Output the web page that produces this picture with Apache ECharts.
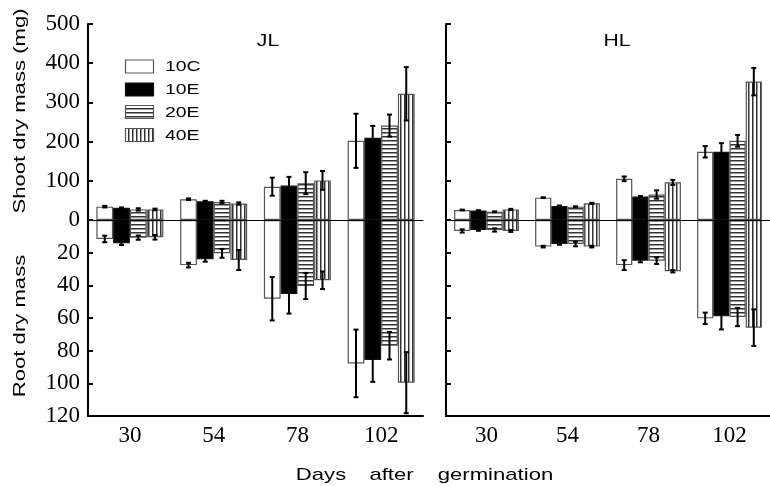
<!DOCTYPE html>
<html><head><meta charset="utf-8">
<script src="https://cdn.jsdelivr.net/npm/echarts@6/dist/echarts.min.js"></script>
<style>html,body{margin:0;padding:0;background:#fff}#c{width:770px;height:486px}</style>
</head><body><div id="c"></div>
<script>
// ---------- data ----------
const days = ['30', '54', '78', '102'];
const treatments = ['10C', '10E', '20E', '40E'];
const panels = ['JL', 'HL'];
const shootMax = 500, shootStep = 100;
const rootMax = 120, rootStep = 20;

// JL shoot dry mass (mg), mean and error, per treatment across days
const jlShoot10C = [34, 53, 85, 202];
const jlShoot10E = [31, 48, 88, 210];
const jlShoot20E = [27, 46, 94, 241];
const jlShoot40E = [27, 42, 101, 322];
const jlShootErr10C = [2, 2, 23, 69];
const jlShootErr10E = [1, 1, 22, 30];
const jlShootErr20E = [3, 3, 28, 28];
const jlShootErr40E = [2, 3, 24, 68];
// JL root dry mass
const jlRoot10C = [11.6, 27.6, 48.2, 87.8];
const jlRoot10E = [14.3, 24.1, 45.3, 85.7];
const jlRoot20E = [10.8, 20.4, 40.4, 77];
const jlRoot40E = [10.6, 24.5, 36.9, 99.6];
const jlRootErr10C = [2, 1.4, 13.3, 20.7];
const jlRootErr10E = [1, 1.4, 12, 13.4];
const jlRootErr20E = [1.3, 2.7, 8, 8.4];
const jlRootErr40E = [1.4, 6.1, 5.4, 18.7];
// HL shoot dry mass
const hlShoot10C = [25.5, 57, 105, 174];
const hlShoot10E = [24, 36, 60, 174];
const hlShoot20E = [21, 34, 65, 202];
const hlShoot40E = [27, 42.5, 96, 353];
const hlShootErr10C = [1, 1, 6, 14.5];
const hlShootErr10E = [1, 1, 1, 22];
const hlShootErr20E = [1, 1, 10.6, 15];
const hlShootErr40E = [1.5, 1.5, 6.4, 35];
// HL root dry mass
const hlRoot10C = [6.7, 16.3, 27.6, 60.2];
const hlRoot10E = [6.1, 14.7, 24.9, 59];
const hlRoot20E = [6.1, 14.7, 24.9, 59.4];
const hlRoot40E = [6.7, 16.3, 31.4, 65.9];
const hlRootErr10C = [1, 0.5, 3, 3.5];
const hlRootErr10E = [0.5, 0.5, 1, 8];
const hlRootErr20E = [1, 1.4, 2, 5.6];
const hlRootErr40E = [0.6, 0.5, 0.7, 11.2];

const means = [
  [[jlShoot10C, jlShoot10E, jlShoot20E, jlShoot40E], [jlRoot10C, jlRoot10E, jlRoot20E, jlRoot40E]],
  [[hlShoot10C, hlShoot10E, hlShoot20E, hlShoot40E], [hlRoot10C, hlRoot10E, hlRoot20E, hlRoot40E]]
];
const errs = [
  [[jlShootErr10C, jlShootErr10E, jlShootErr20E, jlShootErr40E], [jlRootErr10C, jlRootErr10E, jlRootErr20E, jlRootErr40E]],
  [[hlShootErr10C, hlShootErr10E, hlShootErr20E, hlShootErr40E], [hlRootErr10C, hlRootErr10E, hlRootErr20E, hlRootErr40E]]
];

// ---------- patterns ----------
function stripes(horizontal) {
  const c = document.createElement('canvas');
  c.width = 4; c.height = 4;
  const g = c.getContext('2d');
  g.fillStyle = '#fff'; g.fillRect(0, 0, 4, 4);
  g.fillStyle = '#333';
  if (horizontal) g.fillRect(0, 0, 4, 1); else g.fillRect(0, 0, 1, 4);
  g.fillStyle = '#999';
  if (horizontal) g.fillRect(0, 1, 4, 1); else g.fillRect(1, 0, 1, 4);
  return c;
}
const fills = ['#ffffff', '#000000',
  { image: stripes(true), repeat: 'repeat' },
  { image: stripes(false), repeat: 'repeat' }];

// ---------- layout ----------
const panelLeft = [88, 446];
const panelWidth = [335, 334];
const topY = 24, zeroY = 220, halfH = 196;
const serif = 'Liberation Serif';
const sans = 'Liberation Sans';

const grids = [], xAxes = [], yAxes = [], series = [];
for (let p = 0; p < 2; p++) {
  for (let part = 0; part < 2; part++) {
    const gi = p * 2 + part;
    const isRoot = part === 1;
    grids.push({ left: panelLeft[p], width: panelWidth[p], top: isRoot ? zeroY : topY, height: halfH });
    xAxes.push({
      type: 'category', gridIndex: gi, data: days, z: isRoot ? 0 : 10,
      axisLine: { show: true, onZero: false, lineStyle: { color: '#000', width: isRoot ? 2 : 1 } },
      axisTick: { show: false },
      axisLabel: { show: isRoot, fontFamily: serif, fontSize: 23, color: '#000', margin: 8 }
    });
    yAxes.push({
      type: 'value', gridIndex: gi, min: 0, max: isRoot ? rootMax : shootMax,
      interval: isRoot ? rootStep : shootStep, inverse: isRoot,
      axisLine: { show: true, lineStyle: { color: '#000', width: 2 } },
      axisTick: { show: true, inside: true, length: 5, lineStyle: { color: '#000', width: 2 } },
      splitLine: { show: false },
      axisLabel: {
        show: p === 0, fontFamily: serif, fontSize: 23, color: '#000', margin: 8,
        formatter: v => (isRoot && v === 0) ? '' : String(v)
      }
    });
    for (let t = 0; t < 4; t++) {
      series.push({
        type: 'bar', name: treatments[t], xAxisIndex: gi, yAxisIndex: gi,
        barGap: '0%', barCategoryGap: '20%',
        data: means[p][part][t],
        itemStyle: { color: fills[t], borderColor: t === 1 ? '#111' : '#555', borderWidth: 1.2 },
        z: 2, silent: true
      });
    }
    const errData = [];
    for (let t = 0; t < 4; t++) {
      for (let d = 0; d < days.length; d++) {
        errData.push([d, means[p][part][t][d], errs[p][part][t][d], t]);
      }
    }
    series.push({
      type: 'custom', xAxisIndex: gi, yAxisIndex: gi, z: 4, silent: true, clip: false,
      data: errData,
      renderItem: function (params, api) {
        const d = api.value(0), m = api.value(1), e = api.value(2), t = api.value(3);
        const band = api.size([1, 0])[0];
        const bw = band * 0.8 / 4;
        const cx = api.coord([d, m])[0] + (t - 1.5) * bw;
        const y1 = api.coord([d, m - e])[1];
        const y2 = api.coord([d, m + e])[1];
        const cap = 2.5;
        const st = { stroke: '#000', lineWidth: 2 };
        return {
          type: 'group', children: [
            { type: 'line', shape: { x1: cx, y1: y1, x2: cx, y2: y2 }, style: st },
            { type: 'line', shape: { x1: cx - cap, y1: y1, x2: cx + cap, y2: y1 }, style: st },
            { type: 'line', shape: { x1: cx - cap, y1: y2, x2: cx + cap, y2: y2 }, style: st }
          ]
        };
      }
    });
  }
}

// ---------- texts & legend ----------
const graphics = [];
const titleX = [268, 617];
panels.forEach((name, p) => {
  graphics.push({ type: 'text', x: titleX[p], y: 41, scaleX: 1.28,
    style: { text: name, font: '16.5px ' + sans, fill: '#000', align: 'center', verticalAlign: 'middle' } });
});
const legendTops = [60, 83, 105.5, 128.5];
treatments.forEach((name, t) => {
  graphics.push({ type: 'rect', shape: { x: 125.5, y: legendTops[t], width: 28, height: 13 },
    style: { fill: fills[t], stroke: t === 1 ? '#111' : '#555', lineWidth: 1.2 } });
  graphics.push({ type: 'text', x: 165, y: legendTops[t] + 7, scaleX: 1.25,
    style: { text: name, font: '15.5px ' + sans, fill: '#000', align: 'left', verticalAlign: 'middle' } });
});
graphics.push({ type: 'text', x: 20, y: 111, rotation: Math.PI / 2, scaleX: 1.3,
  style: { text: 'Shoot dry mass (mg)', font: '17px ' + sans, fill: '#000', align: 'center', verticalAlign: 'middle' } });
graphics.push({ type: 'text', x: 20, y: 326, rotation: Math.PI / 2, scaleX: 1.3,
  style: { text: 'Root dry mass', font: '17px ' + sans, fill: '#000', align: 'center', verticalAlign: 'middle' } });
const xWords = ['Days', 'after', 'germination'];
const xWordCenters = [321, 391.5, 495.5];
xWords.forEach((w, i) => {
  graphics.push({ type: 'text', x: xWordCenters[i], y: 475, scaleX: 1.3,
    style: { text: w, font: '17px ' + sans, fill: '#000', align: 'center', verticalAlign: 'middle' } });
});

const chart = echarts.init(document.getElementById('c'), null, { renderer: 'canvas' });
chart.setOption({
  animation: false,
  backgroundColor: '#fff',
  grid: grids, xAxis: xAxes, yAxis: yAxes, series: series,
  graphic: graphics
});
</script></body></html>
